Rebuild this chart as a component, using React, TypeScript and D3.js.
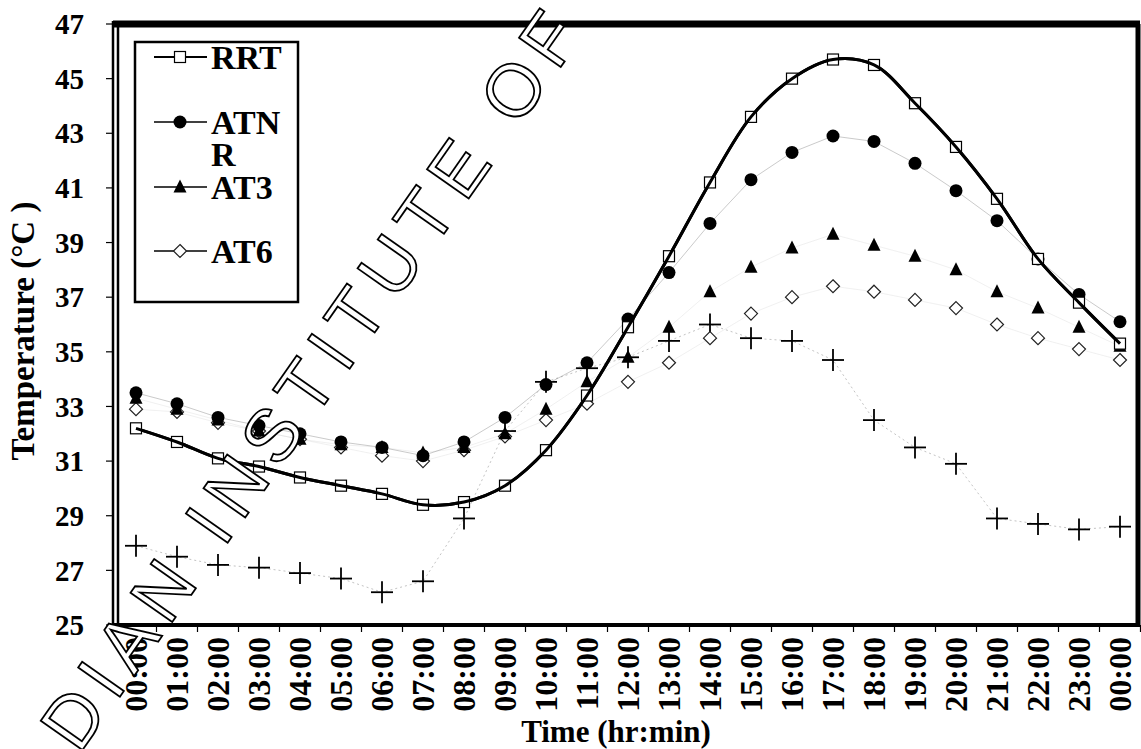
import React from "react";
import * as d3 from "d3";

// hourly readings, 00:00 to 00:00 next day
const hours = ["00:00", "01:00", "02:00", "03:00", "04:00", "05:00", "06:00", "07:00", "08:00", "09:00", "10:00", "11:00", "12:00",
  "13:00", "14:00", "15:00", "16:00", "17:00", "18:00", "19:00", "20:00", "21:00", "22:00", "23:00", "00:00"];

const rrt = [32.2, 31.7, 31.1, 30.8, 30.4, 30.1, 29.8, 29.4, 29.5, 30.1, 31.4, 33.4, 35.9, 38.5, 41.2, 43.6, 45.0, 45.7, 45.5, 44.1, 42.5, 40.6, 38.4, 36.8, 35.3];
const atnr = [33.5, 33.1, 32.6, 32.3, 32.0, 31.7, 31.5, 31.2, 31.7, 32.6, 33.8, 34.6, 36.2, 37.9, 39.7, 41.3, 42.3, 42.9, 42.7, 41.9, 40.9, 39.8, 38.4, 37.1, 36.1];
const at3 = [33.3, 32.9, 32.5, 32.1, 31.8, 31.6, 31.5, 31.3, 31.5, 32.0, 32.9, 33.9, 34.8, 35.9, 37.2, 38.1, 38.8, 39.3, 38.9, 38.5, 38.0, 37.2, 36.6, 35.9, 35.2];
const at6 = [32.9, 32.8, 32.4, 32.1, 31.8, 31.5, 31.2, 31.0, 31.4, 31.9, 32.5, 33.1, 33.9, 34.6, 35.5, 36.4, 37.0, 37.4, 37.2, 36.9, 36.6, 36.0, 35.5, 35.1, 34.7];
const ambient = [27.9, 27.5, 27.2, 27.1, 26.9, 26.7, 26.2, 26.6, 28.9, 32.1, 33.9, 34.4, 34.8, 35.4, 36.0, 35.5, 35.4, 34.7, 32.5, 31.5, 30.9, 28.9, 28.7, 28.5, 28.6];

const yTicks = [25, 27, 29, 31, 33, 35, 37, 39, 41, 43, 45, 47];

const FONT = "'Liberation Serif', 'Times New Roman', serif";

function Marker({ kind, x, y }) {
  if (kind === "square")
    return <rect x={x - 5.5} y={y - 5.5} width={11} height={11} fill="#fff" stroke="#000" strokeWidth={1.2} />;
  if (kind === "circle") return <circle cx={x} cy={y} r={6.5} fill="#000" />;
  if (kind === "triangle")
    return <path d={`M${x},${y - 7.5}L${x + 6.5},${y + 5.5}L${x - 6.5},${y + 5.5}Z`} fill="#000" />;
  if (kind === "diamond")
    return <path d={`M${x},${y - 6.5}L${x + 6.5},${y}L${x},${y + 6.5}L${x - 6.5},${y}Z`} fill="#fff" stroke="#222" strokeWidth={1.2} />;
  // plus
  return (
    <g stroke="#000" strokeWidth={1.8}>
      <line x1={x - 11} x2={x + 11} y1={y} y2={y} />
      <line x1={x} x2={x} y1={y - 11} y2={y + 11} />
    </g>
  );
}

export default function App() {
  const width = 1141;
  const height = 749;
  const plot = { left: 113, right: 1138, top: 24, bottom: 625 };

  const idx = hours.map((_, i) => i);
  const x = d3.scalePoint().domain(idx).range([136, 1120]);
  const step = x.step();
  const y = d3.scaleLinear().domain([25, 47]).range([plot.bottom, plot.top]);

  const straight = d3.line().x((d, i) => x(i)).y((d) => y(d));
  const smooth = d3.line().x((d, i) => x(i)).y((d) => y(d)).curve(d3.curveCatmullRom.alpha(0.5));

  const series = [
    { name: "amb", values: ambient, kind: "plus", line: straight, stroke: "#888", sw: 1, dash: "2,3", op: 0.5 },
    { name: "AT6", values: at6, kind: "diamond", line: straight, stroke: "#aaa", sw: 0.7, dash: null, op: 0.25 },
    { name: "AT3", values: at3, kind: "triangle", line: straight, stroke: "#aaa", sw: 0.7, dash: null, op: 0.25 },
    { name: "ATNR", values: atnr, kind: "circle", line: straight, stroke: "#555", sw: 0.9, dash: null, op: 0.35 },
    { name: "RRT", values: rrt, kind: "square", line: smooth, stroke: "#000", sw: 3, dash: null, op: 1 },
  ];

  const legend = [
    { label: ["RRT"], kind: "square", y: 57, sw: 2 },
    { label: ["ATN", "R"], kind: "circle", y: 122, sw: 1.4 },
    { label: ["AT3"], kind: "triangle", y: 187, sw: 1.4 },
    { label: ["AT6"], kind: "diamond", y: 251, sw: 1.4 },
  ];

  // tick boundaries between categories
  const bounds = d3.range(hours.length + 1).map((i) => x(0) - step / 2 + i * step);

  return (
    <svg width={width} height={height} style={{ display: "block", position: "absolute", left: 0, top: 0 }}
      fontFamily={FONT} fontWeight="bold">
      <rect width={width} height={height} fill="#fff" />

      {/* series */}
      {series.map((s) => (
        <g key={s.name}>
          <path d={s.line(s.values)} fill="none" stroke={s.stroke} strokeWidth={s.sw}
            strokeDasharray={s.dash || undefined} opacity={s.op} />
          {s.values.map((v, i) => <Marker key={i} kind={s.kind} x={x(i)} y={y(v)} />)}
        </g>
      ))}
      <path d={smooth(rrt)} fill="none" stroke="#000" strokeWidth={3} />

      {/* frame */}
      <line x1={plot.left} x2={plot.right + 2} y1={plot.top} y2={plot.top} stroke="#000" strokeWidth={7} />
      <line x1={plot.right} x2={plot.right} y1={plot.top} y2={plot.bottom} stroke="#000" strokeWidth={5} />
      <line x1={plot.left} x2={plot.right + 2} y1={plot.bottom} y2={plot.bottom} stroke="#000" strokeWidth={4} />
      <line x1={plot.left} x2={plot.left} y1={plot.top - 3} y2={plot.bottom + 2} stroke="#000" strokeWidth={2.5} />
      <line x1={plot.left + 5} x2={plot.left + 5} y1={plot.top} y2={plot.bottom} stroke="#000" strokeWidth={2.5} />

      {/* y axis */}
      {yTicks.map((t) => (
        <g key={t}>
          <line x1={plot.left - 7} x2={plot.left} y1={y(t)} y2={y(t)} stroke="#000" strokeWidth={1.2} />
          <text x={84} y={y(t)} dy="0.35em" textAnchor="end" fontSize={29}>{t}</text>
        </g>
      ))}
      <text transform={`translate(34,331) rotate(-90)`} textAnchor="middle" fontSize={33}>
        Temperature (°C )
      </text>

      {/* x axis */}
      {bounds.map((b, i) => (
        <line key={i} x1={b} x2={b} y1={plot.bottom} y2={plot.bottom + 7} stroke="#000" strokeWidth={1.2} />
      ))}
      {hours.map((h, i) => (
        <text key={i} transform={`translate(${x(i)},${plot.bottom + 12}) rotate(-90)`} dy="0.35em" textAnchor="end" fontSize={32}>
          {h}
        </text>
      ))}
      <text x={616} y={742} textAnchor="middle" fontSize={31}>Time (hr:min)</text>

      {/* legend */}
      <rect x={135} y={42} width={163} height={260} fill="#fff" stroke="#000" strokeWidth={2.5} />
      {legend.map((l) => (
        <g key={l.label.join("")}>
          <line x1={154} x2={207} y1={l.y} y2={l.y} stroke="#000" strokeWidth={l.sw} />
          <Marker kind={l.kind} x={180} y={l.y} />
          <text x={211} y={l.y} fontSize={34}>
            {l.label.map((t, j) => (
              <tspan key={j} x={211} dy={j === 0 ? "0.35em" : "0.95em"}>{t}</tspan>
            ))}
          </text>
        </g>
      ))}

      {/* scanned watermark */}
      <text transform="translate(79,755) rotate(-55)" fontFamily="'Liberation Sans', Arial, sans-serif" fontWeight="normal"
        fontSize={74} letterSpacing={11} fill="#fff" stroke="#000" strokeWidth={1.8}>
        DIAN INSTITUTE OF
      </text>
    </svg>
  );
}
